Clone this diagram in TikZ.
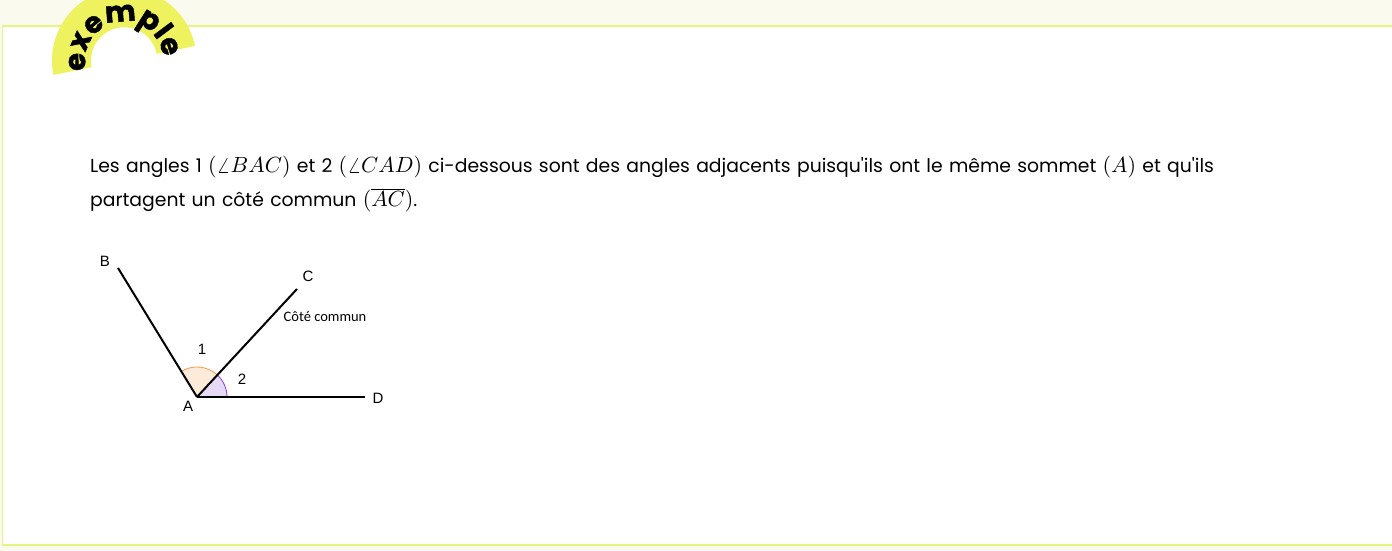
\documentclass[tikz,border=0pt]{standalone}
\usepackage{fontspec}
\newfontfamily\bodyfont{Poppins}[WordSpace=1.25]
\newfontfamily\badgefont{Poppins}[UprightFont=* Bold, FakeBold=1.5]
\newfontfamily\arialfont{Liberation Sans}
\newfontfamily\smallfont{Carlito}
\usetikzlibrary{decorations.text,angles}
\definecolor{pagebg}{HTML}{FAFAEE}
\definecolor{boxborder}{HTML}{E6F57F}
\definecolor{badgeyellow}{HTML}{EEF25E}
\definecolor{arcorange}{HTML}{F0A050}
\definecolor{fillorange}{HTML}{FCEBD9}
\definecolor{arcpurple}{HTML}{8A3FC8}
\definecolor{fillpurple}{HTML}{E6D9F5}
\newcommand{\mymath}[1]{\scalebox{2.2}{\fontsize{10pt}{12pt}\selectfont$#1$}}
\tikzset{
  bodytext/.style={anchor=base west, inner sep=0pt, font=\bodyfont\fontsize{18.8bp}{20bp}\selectfont},
  ray/.style={line width=2bp, black},
  ptlabel/.style={inner sep=0pt, font=\arialfont\fontsize{15bp}{17bp}\selectfont},
  smalllabel/.style={inner sep=0pt, font=\smallfont\fontsize{14.5bp}{16bp}\selectfont}
}
\begin{document}
\begin{tikzpicture}[x=1bp,y=1bp]
\useasboundingbox (0,0) rectangle (1392,551);
\fill[pagebg] (0,0) rectangle (1392,551);
\draw[boxborder, line width=1.2bp, fill=white] (2.5,6) rectangle (1400,525);
% badge
\begin{scope}
\clip (0,0) rectangle (1392,551);
\begin{scope}[shift={(124.2,490.5)}, rotate=11.6]
\fill[badgeyellow] (-72.2,0) arc[start angle=180, end angle=0, radius=72.2] -- (33.2,0) arc[start angle=0, end angle=180, radius=33.2] -- cycle;
\path[decorate, decoration={text along path, text align=center,
  text={|\badgefont\fontsize{29bp}{29bp}\selectfont|exemple}}]
  (190:39) arc[start angle=190, end angle=-14, radius=39];
\end{scope}
\end{scope}
% text
\node[bodytext] (l1) at (90,378) {Les angles 1 \mymath{(\angle BAC)} et 2 \mymath{(\angle CAD)} ci-dessous sont des angles adjacents puisqu'ils ont le même sommet \mymath{(A)} et qu'ils};
\node[bodytext] (l2) at (90,344) {partagent un côté commun \mymath{(\overline{AC})}.};
% figure
\coordinate (A) at (197,154);
\coordinate (B) at (118,283);
\coordinate (C) at (297,262);
\coordinate (D) at (365,154);
\pic[draw=arcorange, fill=fillorange, line width=0.8bp, angle radius=30bp] {angle=C--A--B};
\pic[draw=arcpurple, fill=fillpurple, line width=0.8bp, angle radius=30bp] {angle=D--A--C};
\draw[ray] (A) -- (B);
\draw[ray] (A) -- (C);
\draw[ray] (A) -- (D);
\node[ptlabel] (lB) at (105,290) {B};
\node[ptlabel] (lC) at (308,275) {C};
\node[ptlabel] (lD) at (378,153) {D};
\node[ptlabel] (lA) at (188,145) {A};
\node[ptlabel] (n1) at (202,202) {1};
\node[ptlabel] (n2) at (242,172) {2};
\node[smalllabel] (cc) at (325,234) {Côté commun};
\end{tikzpicture}
\end{document}
